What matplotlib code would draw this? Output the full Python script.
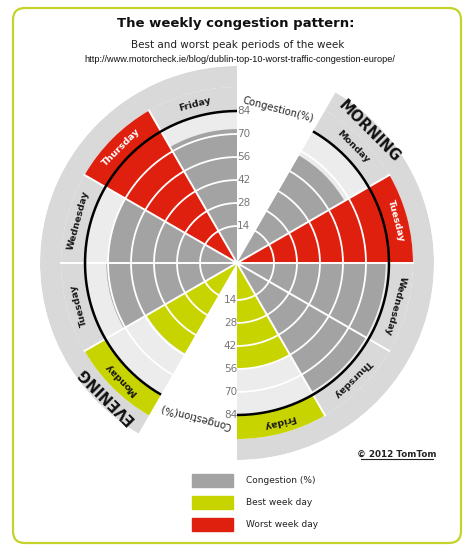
import numpy as np
import matplotlib.pyplot as plt
from matplotlib.patches import FancyBboxPatch, Rectangle
from matplotlib.lines import Line2D
from matplotlib.transforms import IdentityTransform

# data
days = ['Monday', 'Tuesday', 'Wednesday', 'Thursday', 'Friday']
morning = [67, 84, 82, 82, 56]
evening = [55, 71, 70, 84, 73]
morning_kind = ['normal', 'worst', 'normal', 'normal', 'best']
evening_kind = ['best', 'normal', 'normal', 'worst', 'normal']
ticks = [14, 28, 42, 56, 70, 84]
legend_labels = ['Congestion (%)', 'Best week day', 'Worst week day']
legend_kinds = ['normal', 'best', 'worst']

GRAY = '#a3a3a3'
YELLOW = '#c8d400'
RED = '#e0200f'
LIGHT = '#ececec'
BAND = '#d9d9d9'
FRAME = '#c3d32a'
bar_col = {'normal': GRAY, 'best': YELLOW, 'worst': RED}

R0, RMAX = -8.5, 111.4
LABEL_TOP = 98.6
W, H = 469, 558


def fx(x):
    return x / W


def fy(y):
    return 1 - y / H


fig = plt.figure(figsize=(W / 100, H / 100), dpi=100)
ax = fig.add_axes([fx(40), fy(460), 394 / W, 394 / H], projection='polar')
ax.set_theta_zero_location('N')
ax.set_theta_direction(-1)
ax.set_ylim(R0, RMAX)
ax.set_axis_off()

w = np.deg2rad(30)


def period(start, values, kinds, name):
    a0 = np.deg2rad(start)
    n = len(values)
    centers = a0 + w * (np.arange(n) + 0.5)
    ax.bar(a0 + w * n / 2, RMAX - LABEL_TOP, width=w * n, bottom=LABEL_TOP,
           color=BAND, lw=0)
    for th, v, k in zip(centers, values, kinds):
        bg = RED if k == 'worst' else LIGHT
        band = BAND if k == 'normal' else bar_col[k]
        ax.bar(th, 84 - R0, width=w, bottom=R0, color=bg, lw=0)
        ax.bar(th, LABEL_TOP - 84, width=w, bottom=84, color=band, lw=0)
        ax.bar(th, v - R0, width=w, bottom=R0, color=bar_col[k], lw=0)

    # white rings and separators
    arc = np.linspace(a0, a0 + w * n, 200)
    for t in ticks[:-1]:
        ax.plot(arc, np.full_like(arc, t), color='white', lw=1.3)
    for i in range(1, n):
        ax.plot([a0 + w * i] * 2, [R0, LABEL_TOP], color='white', lw=1.4)
    ax.plot(arc, np.full_like(arc, 84), color='black', lw=1.8, solid_capstyle='butt')

    for th, d, k in zip(centers, days, kinds):
        ax.text(th, 91.3, d, rotation=-np.rad2deg(th), rotation_mode='anchor',
                ha='center', va='center', fontsize=6.8, fontweight='bold',
                color='white' if k == 'worst' else '#1a1a1a')
    ax.text(centers[0], 105.2, name, rotation=-np.rad2deg(centers[0]),
            rotation_mode='anchor', ha='center', va='center',
            fontsize=10.5, fontweight='bold', color='#111111')


period(30, morning, morning_kind, 'MORNING')
period(210, evening, evening_kind, 'EVENING')

# scale labels in the two gaps
for t in ticks:
    ax.text(0, t, str(t), ha='left', va='center', fontsize=7.5, color='#777777')
    ax.text(np.pi, t, str(t), ha='right', va='center', fontsize=7.5, color='#777777')
ax.text(np.deg2rad(15), 88, 'Congestion(%)', rotation=-15, rotation_mode='anchor',
        ha='center', va='center', fontsize=7.2, color='#222222')
ax.text(np.deg2rad(195), 88, 'Congestion(%)', rotation=165, rotation_mode='anchor',
        ha='center', va='center', fontsize=7.2, color='#222222')

# titles
fig.text(fx(236), fy(24), 'The weekly congestion pattern:', ha='center', va='center',
         fontsize=9.5, fontweight='bold', color='#111111')
fig.text(fx(238), fy(45), 'Best and worst peak periods of the week', ha='center',
         va='center', fontsize=7.5, color='#222222')
fig.text(fx(240), fy(59), 'http://www.motorcheck.ie/blog/dublin-top-10-worst-traffic-congestion-europe/',
         ha='center', va='center', fontsize=6.6, family='Liberation Sans', color='#111111')

# copyright
fig.text(fx(397), fy(454), '© 2012 TomTom', ha='center', va='center',
         fontsize=6.3, fontweight='bold', color='#222222')
fig.add_artist(Line2D([fx(361), fx(433)], [fy(459), fy(459)], color='#222222', lw=0.8,
                      transform=fig.transFigure))

# legend
for i, (lab, k) in enumerate(zip(legend_labels, legend_kinds)):
    yc = 480.5 + 22 * i
    fig.add_artist(Rectangle((fx(192), fy(yc + 6.5)), 41 / W, 13 / H,
                             color=bar_col[k], transform=fig.transFigure))
    fig.text(fx(246), fy(yc), lab, ha='left', va='center', fontsize=6.5, color='#222222')

# rounded frame
fig.add_artist(FancyBboxPatch((13, 15), 448, 535, boxstyle='round,pad=0,rounding_size=12',
                              transform=IdentityTransform(), fill=False, ec=FRAME, lw=1.6))

fig.savefig('out.png', dpi=100)
